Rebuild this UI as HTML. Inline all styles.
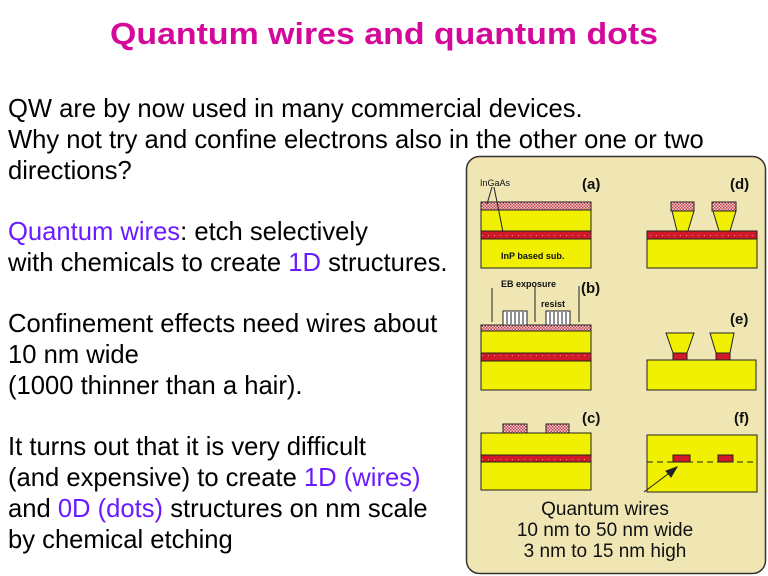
<!DOCTYPE html>
<html><head><meta charset="utf-8"><style>
html,body{margin:0;padding:0;background:#fff;}
svg{display:block;}
text{font-family:"Liberation Sans",sans-serif;}
</style></head><body>
<svg width="768" height="576" viewBox="0 0 768 576" xmlns="http://www.w3.org/2000/svg">
<defs>
<pattern id="pk" width="3" height="3" patternUnits="userSpaceOnUse"><rect width="3" height="3" fill="#f4d0d0"/><rect width="1.5" height="1.5" fill="#c04050"/><rect x="1.5" y="1.5" width="1.5" height="1.5" fill="#c04050"/></pattern>
<pattern id="rd" width="6" height="8" patternUnits="userSpaceOnUse"><rect width="6" height="8" fill="#d01828"/><rect x="2" y="3" width="1" height="1" fill="#f08080"/></pattern>
</defs>
<text x="384" y="44" text-anchor="middle" font-size="31" font-weight="bold" fill="#d4089a" textLength="548" lengthAdjust="spacingAndGlyphs">Quantum wires and quantum dots</text>
<g font-size="25.6" fill="#000">
<text x="8" y="117">QW are by now used in many commercial devices.</text>
<text x="8" y="148">Why not try and confine electrons also in the other one or two</text>
<text x="8" y="179">directions?</text>
<text x="8" y="240"><tspan fill="#6a1aff">Quantum wires</tspan>: etch selectively</text>
<text x="8" y="271">with chemicals to create <tspan fill="#6a1aff">1D</tspan> structures.</text>
<text x="8" y="332">Confinement effects need wires about</text>
<text x="8" y="363">10 nm wide</text>
<text x="8" y="394">(1000 thinner than a hair).</text>
<text x="8" y="455">It turns out that it is very difficult</text>
<text x="8" y="486">(and expensive) to create <tspan fill="#6a1aff">1D (wires)</tspan></text>
<text x="8" y="517">and <tspan fill="#6a1aff">0D (dots)</tspan> structures on nm scale</text>
<text x="8" y="548">by chemical etching</text>
</g>
<rect x="466.5" y="156.5" width="299" height="417" rx="13" fill="#efe6b4" stroke="#333" stroke-width="1.5"/>
<g stroke="#222" stroke-width="1">
<rect x="481" y="210" width="110" height="58" fill="#f0f000"/>
<rect x="481" y="202" width="110" height="8" fill="url(#pk)"/>
<rect x="481" y="231" width="110" height="8" fill="url(#rd)"/>
<line x1="492" y1="187" x2="487" y2="204"/><line x1="494" y1="187" x2="503" y2="232"/>
<rect x="647" y="231" width="110" height="37" fill="#f0f000"/>
<rect x="647" y="231" width="110" height="8" fill="url(#rd)"/>
<polygon points="672,211 694,211 688,231 677,231" fill="#f0f000"/>
<rect x="671" y="202" width="23" height="9" fill="url(#pk)"/>
<polygon points="713,211 736,211 730,231 719,231" fill="#f0f000"/>
<rect x="712" y="202" width="24" height="9" fill="url(#pk)"/>
<rect x="481" y="331" width="110" height="59" fill="#f0f000"/>
<rect x="481" y="325" width="110" height="6" fill="url(#pk)"/>
<rect x="481" y="353" width="110" height="8" fill="url(#rd)"/>
<rect x="503" y="311" width="24" height="14" fill="#fff"/>
<rect x="546" y="311" width="24" height="14" fill="#fff"/>
<path d="M507 312v12M511 312v12M515 312v12M519 312v12M523 312v12M550 312v12M554 312v12M558 312v12M562 312v12M566 312v12"/>
<line x1="492" y1="288" x2="492" y2="322"/><line x1="535" y1="286" x2="535" y2="322"/><line x1="579" y1="286" x2="579" y2="322"/>
<rect x="647" y="360" width="109" height="30" fill="#f0f000"/>
<polygon points="666,333 694,333 687,353 673,353" fill="#f0f000"/>
<rect x="673" y="353" width="14" height="7" fill="#d01828"/>
<polygon points="710,333 734,333 730,353 716,353" fill="#f0f000"/>
<rect x="716" y="353" width="14" height="7" fill="#d01828"/>
<rect x="481" y="433" width="110" height="57" fill="#f0f000"/>
<rect x="481" y="455" width="110" height="7" fill="url(#rd)"/>
<rect x="503" y="424" width="24" height="9" fill="url(#pk)"/>
<rect x="546" y="424" width="23" height="9" fill="url(#pk)"/>
<rect x="647" y="435" width="110" height="57" fill="#f0f000"/>
<rect x="673" y="455" width="17" height="7" fill="#d01828"/>
<rect x="718" y="455" width="15" height="7" fill="#d01828"/>
<line x1="647" y1="462" x2="757" y2="462" stroke-dasharray="6,4"/>
<line x1="644" y1="492" x2="676" y2="468"/>
<polygon points="677,467 666,471 671,477" fill="#222"/>
</g>
<g font-weight="bold" font-size="15" fill="#111">
<text x="582" y="189">(a)</text><text x="730" y="189">(d)</text>
<text x="581" y="293">(b)</text><text x="730" y="324">(e)</text>
<text x="582" y="423">(c)</text><text x="734" y="423">(f)</text>
</g>
<g font-size="9" fill="#111">
<text x="480" y="186">InGaAs</text>
<text x="501" y="259" font-weight="bold">InP based sub.</text>
<text x="501" y="287" font-weight="bold">EB exposure</text>
<text x="541" y="307" font-weight="bold">resist</text>
</g>
<g font-size="19" fill="#111" text-anchor="middle">
<text x="605" y="515">Quantum wires</text>
<text x="605" y="536">10 nm to 50 nm wide</text>
<text x="605" y="557">3 nm to 15 nm high</text>
</g>
</svg>
</body></html>
